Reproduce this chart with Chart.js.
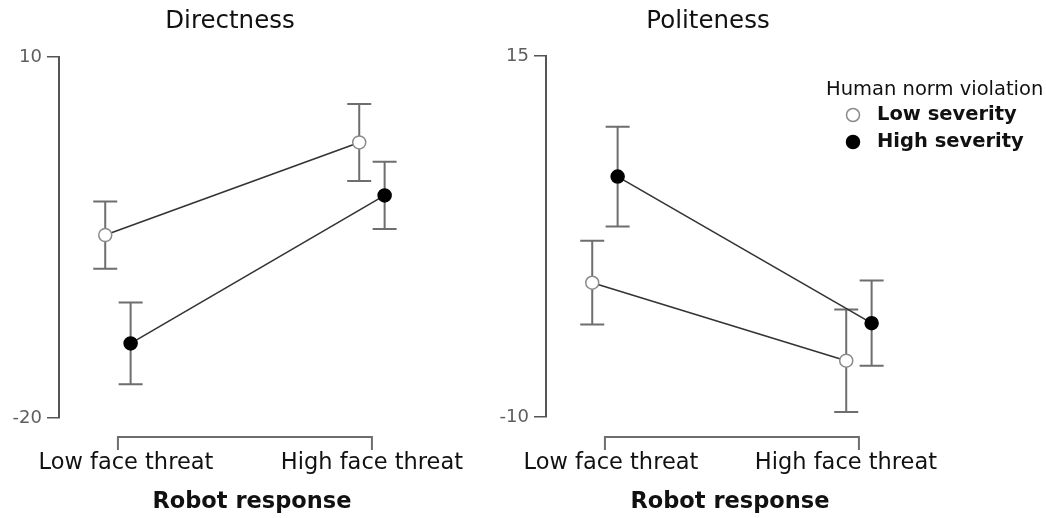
<!DOCTYPE html>
<html lang="en">
<head>
<meta charset="UTF-8">
<title>Directness and Politeness</title>
<script src="https://cdn.jsdelivr.net/npm/chart.js@4.4.0/dist/chart.umd.min.js"></script>
<style>
    body { margin: 0; background: #fff; }
    #wrap { position: relative; width: 1046px; height: 518px; }
    canvas { position: absolute; top: 0; }
    #left { left: 0; }
    #right { left: 487px; }
</style>
</head>
<body>
<div id="wrap">
    <canvas id="left" width="487" height="518"></canvas>
    <canvas id="right" width="559" height="518"></canvas>
</div>
<script>
    // data (means and error bar half-lengths)
    const categories = ['Low face threat', 'High face threat'];
    const seriesNames = ['Low severity', 'High severity'];
    const legendTitle = 'Human norm violation';
    const xTitle = 'Robot response';

    const directLow = [-4.8, 2.9];
    const directLowErr = [2.8, 3.2];
    const directHigh = [-13.8, -1.5];
    const directHighErr = [3.4, 2.8];

    const politeLow = [-0.7, -6.1];
    const politeLowErr = [2.9, 3.55];
    const politeHigh = [6.65, -3.5];
    const politeHighErr = [3.45, 2.95];

    const directTicks = [-20, 10];
    const politeTicks = [-10, 15];

    const dodge = 0.05;
    const FONT = '"DejaVu Sans", sans-serif';

    function points(vals, shift) {
        return vals.map((v, i) => ({ x: i + shift, y: v }));
    }

    const errorBars = {
        id: 'errorBars',
        beforeDatasetsDraw(chart) {
            const { ctx, scales: { x, y } } = chart;
            ctx.save();
            ctx.strokeStyle = '#6e6e6e';
            ctx.lineWidth = 2;
            chart.data.datasets.forEach(ds => {
                ds.data.forEach((p, i) => {
                    const px = x.getPixelForValue(p.x);
                    const top = y.getPixelForValue(p.y + ds.err[i]);
                    const bot = y.getPixelForValue(p.y - ds.err[i]);
                    ctx.beginPath();
                    ctx.moveTo(px, top); ctx.lineTo(px, bot);
                    ctx.moveTo(px - 12, top); ctx.lineTo(px + 12, top);
                    ctx.moveTo(px - 12, bot); ctx.lineTo(px + 12, bot);
                    ctx.stroke();
                });
            });
            ctx.restore();
        }
    };

    const decor = {
        id: 'decor',
        afterDraw(chart, args, opts) {
            const { ctx, scales: { x } } = chart;
            const x0 = x.getPixelForValue(0);
            const x1 = x.getPixelForValue(1);
            ctx.save();
            // title
            ctx.fillStyle = '#111';
            ctx.textAlign = 'center';
            ctx.textBaseline = 'middle';
            ctx.font = '24.5px ' + FONT;
            ctx.fillText(opts.title, opts.titleX, 22);

            // bracket under the plot
            const by = 437;
            ctx.strokeStyle = '#6e6e6e';
            ctx.lineWidth = 2;
            ctx.beginPath();
            ctx.moveTo(x0, by + 13); ctx.lineTo(x0, by);
            ctx.lineTo(x1, by); ctx.lineTo(x1, by + 13);
            ctx.stroke();

            // category labels
            ctx.fillStyle = '#111';
            ctx.font = '22.5px ' + FONT;
            categories.forEach((c, i) => {
                ctx.fillText(c, x.getPixelForValue(i) + opts.labelShift[i], 463);
            });
            ctx.font = 'bold 22.5px ' + FONT;
            ctx.fillText(xTitle, (x0 + x1) / 2 + opts.labelShift[2], 502);

            // legend
            if (opts.legend) {
                const lx = opts.legend.x, ly = opts.legend.y;
                ctx.textAlign = 'left';
                ctx.font = '19.5px ' + FONT;
                ctx.fillText(legendTitle, lx, ly);
                chart.data.datasets.forEach((ds, i) => {
                    const ry = ly + 25 + i * 27;
                    ctx.beginPath();
                    ctx.arc(lx + 27, ry, 6.5, 0, Math.PI * 2);
                    ctx.fillStyle = ds.pointBackgroundColor;
                    ctx.fill();
                    ctx.strokeStyle = ds.pointBorderColor;
                    ctx.lineWidth = 1.5;
                    ctx.stroke();
                    ctx.fillStyle = '#111';
                    ctx.font = 'bold 19.5px ' + FONT;
                    ctx.fillText(seriesNames[i], lx + 51, ry);
                });
            }
            ctx.restore();
        }
    };

    function makePanel(id, cfg) {
        const datasets = [
            { label: seriesNames[0], data: points(cfg.low, -dodge), err: cfg.lowErr,
              pointBackgroundColor: '#ffffff', pointBorderColor: '#8a8a8a' },
            { label: seriesNames[1], data: points(cfg.high, dodge), err: cfg.highErr,
              pointBackgroundColor: '#000000', pointBorderColor: '#000000' }
        ].map(d => Object.assign(d, {
            borderColor: '#333333',
            borderWidth: 1.6,
            pointRadius: 6.5,
            pointBorderWidth: 1.5,
            showLine: true,
            fill: false
        }));

        return new Chart(document.getElementById(id), {
            type: 'line',
            data: { datasets },
            options: {
                responsive: false,
                animation: false,
                devicePixelRatio: 1,
                layout: { padding: cfg.padding },
                plugins: {
                    legend: { display: false },
                    tooltip: { enabled: false },
                    decor: { title: cfg.title, titleX: cfg.titleX, legend: cfg.legend, labelShift: cfg.labelShift }
                },
                scales: {
                    x: { type: 'linear', display: false, min: -0.232, max: 1.268 },
                    y: {
                        type: 'linear',
                        min: cfg.ticks[0],
                        max: cfg.ticks[1],
                        afterBuildTicks: s => { s.ticks = cfg.ticks.map(v => ({ value: v })); },
                        afterFit: s => { s.width = 59; },
                        ticks: { color: '#5e5e5e', font: { family: FONT, size: 18 }, padding: 5 },
                        grid: { drawOnChartArea: false, tickLength: 12, color: '#555', lineWidth: 1.5 },
                        border: { color: '#555', width: 2 }
                    }
                }
            },
            plugins: [errorBars, decor]
        });
    }

    makePanel('left', {
        title: 'Directness', titleX: 230,
        low: directLow, lowErr: directLowErr, high: directHigh, highErr: directHighErr,
        ticks: directTicks,
        padding: { top: 57, bottom: 100, left: 0, right: 47 },
        labelShift: [8, 0, 7]
    });

    makePanel('right', {
        title: 'Politeness', titleX: 221,
        low: politeLow, lowErr: politeLowErr, high: politeHigh, highErr: politeHighErr,
        ticks: politeTicks,
        padding: { top: 56, bottom: 101, left: 0, right: 119 },
        labelShift: [6, -13, -2],
        legend: { x: 339, y: 90 }
    });
</script>
</body>
</html>
